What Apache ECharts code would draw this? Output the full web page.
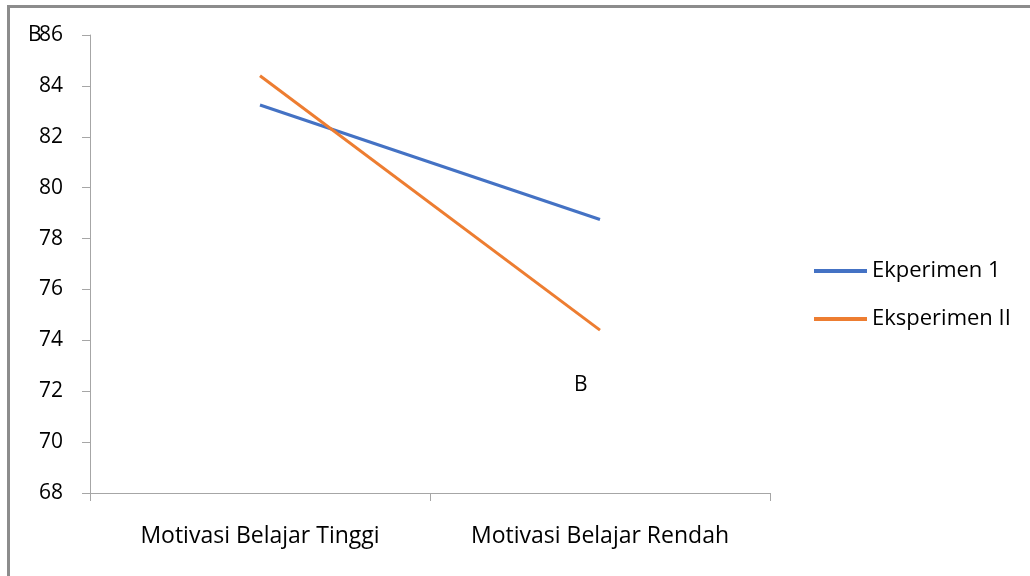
<!DOCTYPE html>
<html>
<head>
<meta charset="utf-8">
<script src="https://cdn.jsdelivr.net/npm/echarts@6/dist/echarts.min.js"></script>
<style>
  html, body { margin: 0; padding: 0; background: #fff; }
  #chart { width: 1030px; height: 576px; }
</style>
</head>
<body>
<div id="chart"></div>
<script>
// data
const categories = ['Motivasi Belajar Tinggi', 'Motivasi Belajar Rendah']
const seriesNames = ['Ekperimen 1', 'Eksperimen II']
const eksperimen1 = [83.25, 78.75]
const eksperimen2 = [84.4, 74.4]
const yMin = 68
const yMax = 86
const yStep = 2

const font = '"Open Sans", "Noto Sans", sans-serif'
const axisGray = '#a6a6a6'
const blue = '#4472c4'
const orange = '#ed7d31'

// one legend block per entry so each sits where the reference has it
function legendAt(name, top) {
  return {
    data: [{ name: name, icon: 'rect' }],
    left: 809,
    top: top,
    itemWidth: 53,
    itemHeight: 4,
    textStyle: { fontSize: 22, color: '#000', fontFamily: font }
  }
}

const chart = echarts.init(document.getElementById('chart'))
chart.setOption({
  backgroundColor: '#fff',
  animation: false,
  textStyle: { fontFamily: font },
  grid: { left: 90, right: 260, top: 35, bottom: 83 },
  legend: [legendAt(seriesNames[0], 255), legendAt(seriesNames[1], 303)],
  xAxis: {
    type: 'category',
    data: categories,
    boundaryGap: true,
    axisLine: { lineStyle: { color: axisGray, width: 1 } },
    axisTick: { show: true, length: 8, lineStyle: { color: axisGray } },
    axisLabel: { fontSize: 23, color: '#000', margin: 32 }
  },
  yAxis: {
    type: 'value',
    min: yMin,
    max: yMax,
    interval: yStep,
    splitLine: { show: false },
    axisLine: { show: true, lineStyle: { color: axisGray, width: 1 } },
    axisTick: { show: true, length: 8, lineStyle: { color: axisGray } },
    axisLabel: { fontSize: 21, color: '#000', margin: 27 }
  },
  series: [
    {
      name: seriesNames[0],
      type: 'line',
      data: eksperimen1,
      symbol: 'none',
      lineStyle: { color: blue, width: 3 },
      itemStyle: { color: blue }
    },
    {
      name: seriesNames[1],
      type: 'line',
      data: eksperimen2,
      symbol: 'none',
      lineStyle: { color: orange, width: 3 },
      itemStyle: { color: orange }
    }
  ],
  graphic: [
    {
      type: 'rect',
      shape: { x: 8.5, y: 6.5, width: 1100, height: 700 },
      style: { fill: 'none', stroke: '#8c8c8c', lineWidth: 3 },
      silent: true
    },
    {
      type: 'text',
      left: 28,
      top: 25,
      style: { text: 'B', fontSize: 21, fill: '#000', fontFamily: font }
    },
    {
      type: 'text',
      left: 574,
      top: 375,
      style: { text: 'B', fontSize: 21, fill: '#000', fontFamily: font }
    }
  ]
})
</script>
</body>
</html>
